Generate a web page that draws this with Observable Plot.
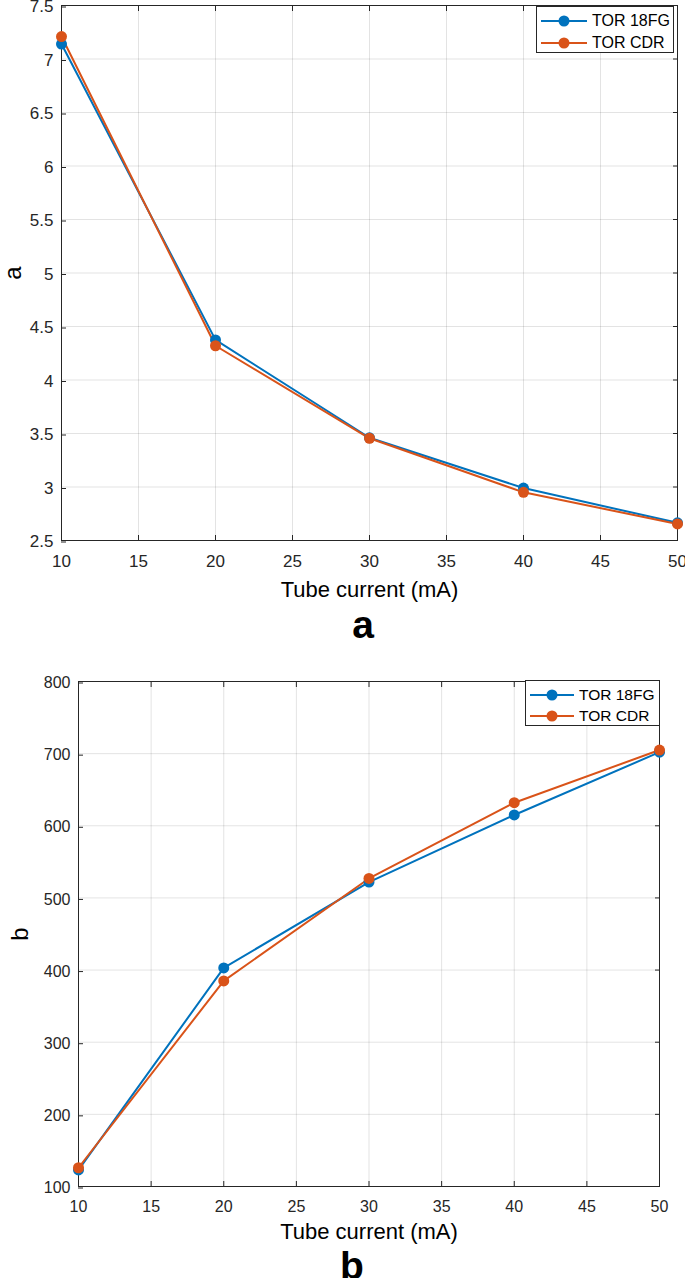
<!DOCTYPE html>
<html>
<head>
<meta charset="utf-8">
<script src="https://cdn.jsdelivr.net/npm/d3@7"></script>
<script src="https://cdn.jsdelivr.net/npm/@observablehq/plot@0.6"></script>
<style>
  body { margin: 0; background: #fff; font-family: "Liberation Sans", Arial, sans-serif; }
  #wrap { position: relative; width: 685px; height: 1278px; overflow: hidden; background: #fff; }
  .panel { position: absolute; left: 0; }
  .panel svg [aria-label="x-axis label"] text { font-size: 22px; fill: #000; }
  .panel svg [aria-label="y-axis label"] text { font-size: 24px; fill: #000; }
  .cap { position: absolute; font-weight: bold; font-size: 39px; line-height: 1; color: #000; transform: translate(-50%, -50%); }
  .legend { position: absolute; background: #fff; border: 1px solid #262626; box-sizing: border-box; color: #000; }
  .legend .row { display: flex; align-items: center; white-space: nowrap; }
  .legend svg { display: block; flex: none; }
</style>
</head>
<body>
<div id="wrap"></div>
<script>
// ---- data ----
const current = [10, 20, 30, 40, 50];
const seriesNames = ["TOR 18FG", "TOR CDR"];
const seriesColors = ["#0072BD", "#D95319"];
const a18FG = [7.14, 4.375, 3.46, 2.99, 2.665];
const aCDR  = [7.21, 4.32, 3.455, 2.95, 2.655];
const b18FG = [123, 403, 522, 615, 702];
const bCDR  = [126, 385, 527, 632, 705];
const xTicks = [10, 15, 20, 25, 30, 35, 40, 45, 50];
const aTicks = [2.5, 3, 3.5, 4, 4.5, 5, 5.5, 6, 6.5, 7, 7.5];
const bTicks = [100, 200, 300, 400, 500, 600, 700, 800];
const xLabel = "Tube current (mA)";

function rows(s1, s2) {
  const out = [];
  current.forEach((c, i) => out.push({x: c, y: s1[i], s: seriesNames[0]}));
  current.forEach((c, i) => out.push({x: c, y: s2[i], s: seriesNames[1]}));
  return out;
}

function panel(o) {
  const data = rows(o.s1, o.s2);
  const grid = {stroke: "#000", strokeOpacity: 0.11, strokeWidth: 1};
  return Plot.plot({
    width: 685,
    height: o.height,
    marginTop: o.marginTop,
    marginBottom: o.marginBottom,
    marginLeft: o.marginLeft,
    marginRight: o.marginRight,
    style: {fontFamily: '"Liberation Sans", Arial, sans-serif', fontSize: o.tickFont, color: "#262626", background: "transparent", overflow: "visible"},
    x: {domain: [10, 50]},
    y: {domain: o.yDomain},
    color: {domain: seriesNames, range: seriesColors},
    marks: [
      Plot.gridX(xTicks, grid),
      Plot.gridY(o.yTicks, grid),
      Plot.axisX(xTicks, {anchor: "bottom", tickSize: -5, tickPadding: 19, tickFormat: d => String(d),
        label: xLabel, labelAnchor: "center", labelOffset: o.xLabelOffset, labelArrow: "none"}),
      Plot.axisX(xTicks, {anchor: "top", tickSize: -5, tickFormat: () => "", label: null}),
      Plot.axisY(o.yTicks, {anchor: "left", tickSize: -5, tickPadding: 13, dy: 1.5, tickFormat: d => String(d),
        label: o.yLabel, labelAnchor: "center", labelOffset: o.yLabelOffset, labelArrow: "none"}),
      Plot.axisY(o.yTicks, {anchor: "right", tickSize: -5, tickFormat: () => "", label: null}),
      Plot.frame({stroke: "#262626", strokeWidth: 1}),
      Plot.line(data, {x: "x", y: "y", z: "s", stroke: "s", strokeWidth: 2}),
      Plot.dot(data, {x: "x", y: "y", fill: "s", r: 5.5})
    ]
  });
}

function legend(left, top, width, height, fontSize, lineLen, rowGap) {
  const div = document.createElement("div");
  div.className = "legend";
  Object.assign(div.style, {left: left + "px", top: top + "px", width: width + "px", height: height + "px",
    fontSize: fontSize + "px", padding: "3px 0 0 4px"});
  seriesNames.forEach((name, i) => {
    const row = document.createElement("div");
    row.className = "row";
    row.style.height = rowGap + "px";
    row.innerHTML = `<svg width="${lineLen}" height="12"><line x1="0" x2="${lineLen}" y1="6" y2="6" stroke="${seriesColors[i]}" stroke-width="2"/><circle cx="${lineLen/2}" cy="6" r="5.5" fill="${seriesColors[i]}"/></svg><span style="margin-left:5px">${name}</span>`;
    div.appendChild(row);
  });
  return div;
}

const wrap = document.getElementById("wrap");

const pa = document.createElement("div");
pa.className = "panel"; pa.style.top = "0px";
pa.appendChild(panel({s1: a18FG, s2: aCDR, yDomain: [2.5, 7.5], yTicks: aTicks, yLabel: "a",
  height: 605, marginTop: 5, marginBottom: 65, marginLeft: 61, marginRight: 8,
  tickFont: "17px", xLabelOffset: 56, yLabelOffset: 58}));
wrap.appendChild(pa);

const capA = document.createElement("div");
capA.className = "cap"; capA.textContent = "a";
capA.style.left = "363px"; capA.style.top = "624px";
wrap.appendChild(capA);

const pb = document.createElement("div");
pb.className = "panel"; pb.style.top = "660px";
pb.appendChild(panel({s1: b18FG, s2: bCDR, yDomain: [100, 800], yTicks: bTicks, yLabel: "b",
  height: 586, marginTop: 21, marginBottom: 60, marginLeft: 78, marginRight: 26,
  tickFont: "16px", xLabelOffset: 52, yLabelOffset: 68}));
wrap.appendChild(pb);

const capB = document.createElement("div");
capB.className = "cap"; capB.textContent = "b";
capB.style.left = "352px"; capB.style.top = "1265px";
wrap.appendChild(capB);

wrap.appendChild(legend(536, 6, 138, 47, 16, 46, 22));
wrap.appendChild(legend(525, 680, 135, 46, 15.5, 44, 21));
</script>
</body>
</html>
